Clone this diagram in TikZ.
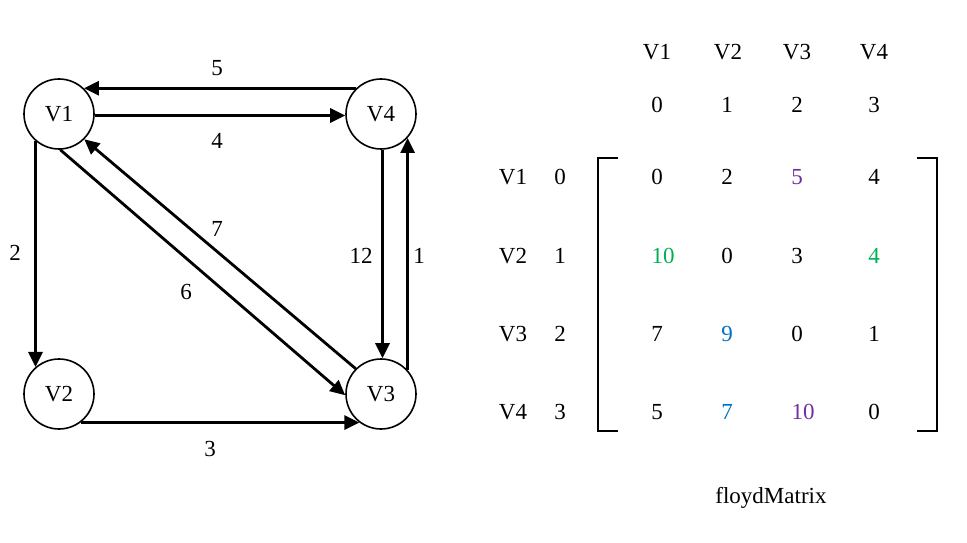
\documentclass[tikz,border=0pt]{standalone}
\usepackage{fontspec}
\setmainfont{Liberation Serif}
\usetikzlibrary{arrows.meta}
\definecolor{mpurple}{HTML}{7030A0}
\definecolor{mgreen}{HTML}{00B050}
\definecolor{mblue}{HTML}{0070C0}
\tikzset{
  vert/.style={circle,draw,line width=1.6pt,minimum size=70pt,inner sep=0pt,font=\fontsize{23}{26}\selectfont},
  edge/.style={line width=2.8pt,-{Triangle[length=15pt,width=14pt]}},
  lbl/.style={font=\fontsize{23}{26}\selectfont,inner sep=0pt},
  brk/.style={line width=2.2pt}
}
\begin{document}
\begin{tikzpicture}[x=1pt,y=1pt]
\useasboundingbox (0,0) rectangle (967,542);
% vertices
\node[vert] (V1) at (59,428) {V1};
\node[vert] (V4) at (381,428) {V4};
\node[vert] (V2) at (59,148) {V2};
\node[vert] (V3) at (381,148) {V3};
% edges
\draw[edge] (V4.134) -- (V1.46);
\draw[edge] ([yshift=-1.5pt]V1.east) -- ([yshift=-1.5pt]V4.west);
\draw[edge] (V1.229) -- (V2.131);
\draw[edge] (V2.-53) -- (V3.233);
\draw[edge] ([xshift=1.5pt]V4.south) -- ([xshift=1.5pt]V3.north);
\draw[edge] (V3.42) -- (V4.-42);
\draw[edge] (V1.-88) -- (V3.182);
\draw[edge] (V3.135) -- (V1.-45);
% edge labels
\node[lbl] (l5) at (217,474) {5};
\node[lbl] (l4) at (217,401) {4};
\node[lbl] (l2) at (15,289) {2};
\node[lbl] (l12) at (361,286) {12};
\node[lbl] (l1) at (419,286) {1};
\node[lbl] (l7) at (217,313) {7};
\node[lbl] (l6) at (186,250) {6};
\node[lbl] (l3) at (210,93) {3};
% matrix headers
\node[lbl] (h1) at (657,490) {V1};
\node[lbl] (h2) at (728,490) {V2};
\node[lbl] (h3) at (797,490) {V3};
\node[lbl] (h4) at (874,490) {V4};
\node[lbl] (i1) at (657,437) {0};
\node[lbl] (i2) at (727,437) {1};
\node[lbl] (i3) at (797,437) {2};
\node[lbl] (i4) at (874,437) {3};
% row headers
\node[lbl] (r1) at (513,365) {V1};
\node[lbl] (r2) at (513,286) {V2};
\node[lbl] (r3) at (513,208) {V3};
\node[lbl] (r4) at (513,130) {V4};
\node[lbl] (j1) at (560,365) {0};
\node[lbl] (j2) at (560,286) {1};
\node[lbl] (j3) at (560,208) {2};
\node[lbl] (j4) at (560,130) {3};
% entries
\node[lbl] (m11) at (657,365) {0};
\node[lbl] (m12) at (727,365) {2};
\node[lbl,text=mpurple] (m13) at (797,365) {5};
\node[lbl] (m14) at (874,365) {4};
\node[lbl,text=mgreen] (m21) at (663,286) {10};
\node[lbl] (m22) at (727,286) {0};
\node[lbl] (m23) at (797,286) {3};
\node[lbl,text=mgreen] (m24) at (874,286) {4};
\node[lbl] (m31) at (657,208) {7};
\node[lbl,text=mblue] (m32) at (727,208) {9};
\node[lbl] (m33) at (797,208) {0};
\node[lbl] (m34) at (874,208) {1};
\node[lbl] (m41) at (657,130) {5};
\node[lbl,text=mblue] (m42) at (727,130) {7};
\node[lbl,text=mpurple] (m43) at (803,130) {10};
\node[lbl] (m44) at (874,130) {0};
% brackets
\draw[brk] (618,384) -- (598,384) -- (598,111) -- (618,111);
\draw[brk] (917,384) -- (937,384) -- (937,111) -- (917,111);
% caption
\node[lbl] (cap) at (771,44) {floydMatrix};
\end{tikzpicture}
\end{document}
